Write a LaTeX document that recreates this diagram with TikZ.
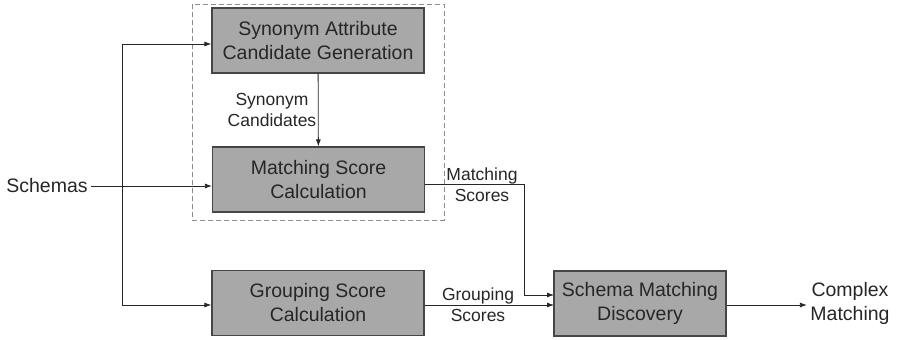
\documentclass[tikz,border=0pt]{standalone}
\usepackage{fontspec}
\setmainfont{Liberation Sans}
\usetikzlibrary{arrows.meta}
\definecolor{boxgray}{RGB}{168,168,168}
\definecolor{edgegray}{RGB}{70,70,70}
\begin{document}
\begin{tikzpicture}[
        x=1pt, y=-1pt,
        stage/.style={rectangle, draw=edgegray, line width=1.2pt, fill=boxgray, minimum width=212pt, minimum height=65pt, align=center, font=\fontsize{19.5}{24}\selectfont, text=black!85},
        label/.style={align=center, font=\fontsize{17.5}{21}\selectfont, text=black!85},
        outer/.style={align=center, font=\fontsize{19.5}{24}\selectfont, text=black!85},
        line/.style={draw=black!85, line width=0.8pt},
        arrow/.style={line, -{Latex[length=7pt,width=5pt]}}
    ]
        \useasboundingbox (0,0) rectangle (898,340);

        % Component group
        \draw[draw=black!45, line width=1pt, dash pattern=on 5pt off 3pt] (192,4) rectangle (444,220);

        % Stages
        \node[stage] (syngen) at (318,40.5) {Synonym Attribute\\Candidate Generation};
        \node[stage] (matchcalc) at (318.5,179.5) {Matching Score\\Calculation};
        \node[stage] (groupcalc) at (318,303) {Grouping Score\\Calculation};
        \node[stage, minimum width=172pt] (discovery) at (640,303.5) {Schema Matching\\Discovery};

        % Input and output
        \node[outer] (schemas) at (47,186) {Schemas};
        \node[outer] (complex) at (850,303) {Complex\\Matching};

        % Helper points
        \coordinate (split) at (122,186);
        \coordinate (splittop) at (122,44);
        \coordinate (splitbot) at (122,305);
        \coordinate (mbend) at (524,184);
        \coordinate (min) at (554,295);
        \coordinate (gin) at (554,305);

        % Schemas fan-out
        \draw[line] (schemas.east) -- (split);
        \draw[line] (splittop) -- (splitbot);
        \draw[arrow] (split) -- (split -| matchcalc.west);
        \draw[arrow] (splittop) -- (splittop -| syngen.west);
        \draw[arrow] (splitbot) -- (splitbot -| groupcalc.west);

        % Synonym candidates
        \draw[arrow] (syngen) -- (matchcalc);
        \node[label] (synlabel) at (272,110) {Synonym\\Candidates};

        % Scores to discovery
        \draw[arrow] (mbend -| matchcalc.east) -- (mbend) |- (min);
        \node[label] (mlabel) at (482,185) {Matching\\Scores};
        \draw[arrow] (gin -| groupcalc.east) -- (gin);
        \node[label] (glabel) at (478,305) {Grouping\\Scores};

        % Result
        \draw[arrow] (discovery.east |- gin) -- (complex.west |- gin);
    \end{tikzpicture}
\end{document}
